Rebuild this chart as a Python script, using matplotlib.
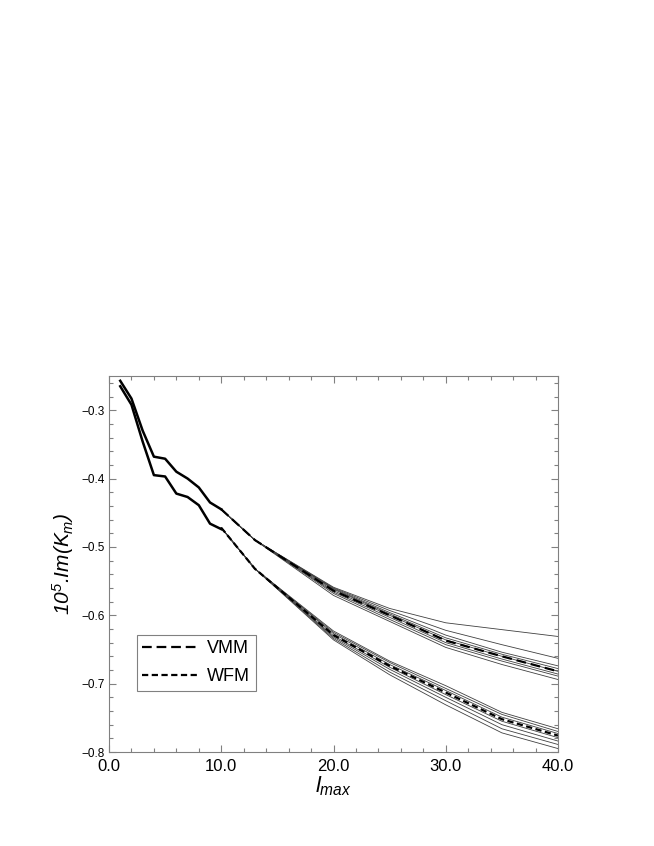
import numpy as np
import matplotlib
matplotlib.use("Agg")
import matplotlib.pyplot as plt
from matplotlib.ticker import MultipleLocator, FuncFormatter

plt.rcParams['font.family'] = ['Liberation Sans', 'DejaVu Sans']
plt.rcParams['mathtext.fontset'] = 'custom'
plt.rcParams['mathtext.it'] = 'Liberation Sans:italic'
plt.rcParams['mathtext.rm'] = 'Liberation Sans:italic'
plt.rcParams['lines.scale_dashes'] = False

# converged part, l = 1..10
l_low = [1, 2, 3, 4, 5, 6, 7, 8, 9, 10]
upper_low = [-0.257, -0.283, -0.330, -0.368, -0.371, -0.390, -0.400, -0.413, -0.435, -0.445]
lower_low = [-0.265, -0.292, -0.346, -0.395, -0.397, -0.422, -0.427, -0.439, -0.466, -0.474]

# bundle part
l_high = [10, 11, 12, 13, 20, 25, 30, 35, 40]
upper_start = [-0.445, -0.460, -0.475, -0.490]
lower_start = [-0.472, -0.492, -0.512, -0.532]

vmm_tail = [-0.564, -0.600, -0.637, -0.660, -0.682]
wfm_tail = [-0.629, -0.674, -0.713, -0.752, -0.776]

upper_tails = [
    [-0.559, -0.590, -0.611, -0.621, -0.631],
    [-0.560, -0.593, -0.622, -0.643, -0.663],
    [-0.561, -0.596, -0.629, -0.654, -0.674],
    [-0.562, -0.598, -0.633, -0.657, -0.678],
    [-0.564, -0.600, -0.636, -0.660, -0.682],
    [-0.566, -0.603, -0.640, -0.664, -0.686],
    [-0.568, -0.606, -0.643, -0.667, -0.689],
    [-0.571, -0.609, -0.647, -0.672, -0.694],
]
lower_tails = [
    [-0.623, -0.667, -0.703, -0.742, -0.766],
    [-0.625, -0.669, -0.707, -0.745, -0.770],
    [-0.627, -0.672, -0.710, -0.749, -0.773],
    [-0.630, -0.676, -0.716, -0.755, -0.779],
    [-0.632, -0.679, -0.720, -0.760, -0.784],
    [-0.634, -0.683, -0.725, -0.766, -0.789],
    [-0.636, -0.687, -0.731, -0.772, -0.795],
]

fig = plt.figure(figsize=(6.54, 8.46), dpi=100)
ax = fig.add_axes([109/654, 94/846, 449/654, 376/846])

for t in upper_tails:
    ax.plot(l_high, upper_start + t, color='0.25', lw=0.6)
for t in lower_tails:
    ax.plot(l_high, lower_start + t, color='0.25', lw=0.6)

ax.plot(l_low, upper_low, color='black', lw=1.8)
ax.plot(l_low, lower_low, color='black', lw=1.8)

ax.plot(l_high, upper_start + vmm_tail, color='black', lw=1.6,
        dashes=(7, 3.5), label='VMM')
ax.plot(l_high, lower_start + wfm_tail, color='black', lw=1.6,
        dashes=(4.5, 2.5), label='WFM')

ax.set_xlim(0, 40)
ax.set_ylim(-0.8, -0.25)
ax.xaxis.set_major_locator(MultipleLocator(10))
ax.xaxis.set_minor_locator(MultipleLocator(2))
ax.yaxis.set_major_locator(MultipleLocator(0.1))
ax.yaxis.set_minor_locator(MultipleLocator(0.02))
ax.xaxis.set_major_formatter(FuncFormatter(lambda v, p: f'{v:.1f}'))
ax.yaxis.set_major_formatter(FuncFormatter(lambda v, p: f'{v:.1f}'.replace('-', '\u2212')))
ax.tick_params(which='both', direction='in', top=True, right=True, color='0.5', width=0.8)
ax.tick_params(which='major', length=5)
ax.tick_params(which='minor', length=3)
ax.tick_params(axis='x', labelsize=12, pad=5)
ax.tick_params(axis='y', labelsize=8.5, pad=3)
for s in ax.spines.values():
    s.set_color('0.5')
    s.set_linewidth(0.8)

ax.set_xlabel(r'$l_{max}$', fontsize=16, labelpad=0)
ax.set_ylabel(r'$10^{5}$.$Im(K_{m})$', fontsize=15, labelpad=4, style='italic')

leg = ax.legend(loc='upper left', bbox_to_anchor=(137/654, 1 - 635/846),
                bbox_transform=fig.transFigure, borderaxespad=0,
                fontsize=13, handlelength=3.0, handletextpad=0.6,
                labelspacing=0.6, borderpad=0.3, fancybox=False,
                framealpha=1, edgecolor='0.5')
leg.get_frame().set_linewidth(0.8)

fig.savefig('out.png', dpi=100)
